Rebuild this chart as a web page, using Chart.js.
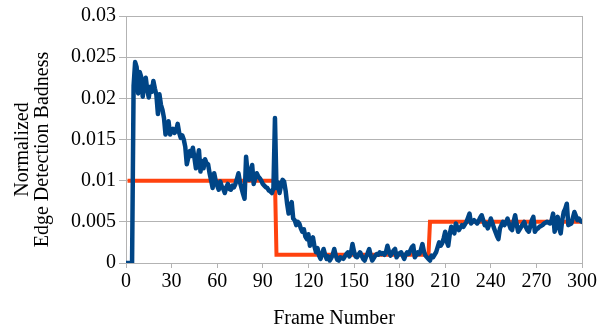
<!DOCTYPE html>
<html>
<head>
<meta charset="utf-8">
<script src="https://cdn.jsdelivr.net/npm/chart.js@4.4.1/dist/chart.umd.min.js"></script>
<style>
  html, body { margin: 0; padding: 0; background: #fff; }
  canvas { display: block; }
</style>
</head>
<body>
<canvas id="myChart" width="607" height="333"></canvas>
<script>
// tick labels
const xTicks = [0, 30, 60, 90, 120, 150, 180, 210, 240, 270, 300];
const yTicks = [0, 0.005, 0.01, 0.015, 0.02, 0.025, 0.03];

// measured badness, one value per frame (0..300)
const badness = [
  0, 0, 0, 0, 0, 0.0215, 0.0244, 0.0238, 0.0206, 0.0232,
  0.0226, 0.0202, 0.0218, 0.0225, 0.0210, 0.0201, 0.0214, 0.0208, 0.0221, 0.0212,
  0.0204, 0.0181, 0.0205, 0.0192, 0.0186, 0.0176, 0.0156, 0.0168, 0.0172, 0.0156,
  0.0160, 0.0163, 0.0158, 0.0161, 0.0169, 0.0158, 0.0152, 0.0155, 0.0150, 0.0141,
  0.0120, 0.0128, 0.0136, 0.0130, 0.0140, 0.0128, 0.0115, 0.0126, 0.0137, 0.0111,
  0.0124, 0.0115, 0.0126, 0.0121, 0.0120, 0.0109, 0.0100, 0.0091, 0.0109, 0.0100,
  0.0094, 0.0089, 0.0099, 0.0093, 0.0090, 0.0085, 0.0092, 0.0096, 0.0090, 0.0089,
  0.0094, 0.0092, 0.0096, 0.0102, 0.0109, 0.0098, 0.0091, 0.0084, 0.0078, 0.0129,
  0.0109, 0.0101, 0.0112, 0.0119, 0.0096, 0.0103, 0.0109, 0.0105, 0.0103, 0.0100,
  0.0096, 0.0094, 0.0092, 0.0091, 0.0088, 0.0087, 0.0085, 0.0091, 0.0176, 0.0091,
  0.0098, 0.0085, 0.0094, 0.0101, 0.0099, 0.0088, 0.0072, 0.0060, 0.0068, 0.0074,
  0.0054, 0.0052, 0.0046, 0.0050, 0.0048, 0.0042, 0.0038, 0.0041, 0.0032, 0.0029,
  0.0035, 0.0021, 0.0028, 0.0031, 0.0020, 0.0013, 0.0018, 0.0009, 0.0005, 0.0011,
  0.0017, 0.0010, 0.0005, 0.0008, 0.0003, 0.0006, 0.0010, 0.0017, 0.0009, 0.0004,
  0.0003, 0.0007, 0.0006, 0.0005, 0.0008, 0.0011, 0.0013, 0.0008, 0.0012, 0.0023,
  0.0014, 0.0008, 0.0007, 0.0010, 0.0013, 0.0009, 0.0005, 0.0003, 0.0008, 0.0012,
  0.0017, 0.0009, 0.0003, 0.0006, 0.0009, 0.0011, 0.0010, 0.0013, 0.0011, 0.0012,
  0.0010, 0.0013, 0.0021, 0.0014, 0.0009, 0.0012, 0.0015, 0.0017, 0.0007, 0.0010,
  0.0012, 0.0013, 0.0009, 0.0005, 0.0010, 0.0013, 0.0011, 0.0015, 0.0019, 0.0021,
  0.0007, 0.0010, 0.0013, 0.0011, 0.0016, 0.0023, 0.0014, 0.0009, 0.0007, 0.0005,
  0.0003, 0.0009, 0.0007, 0.0010, 0.0013, 0.0019, 0.0025, 0.0021, 0.0024, 0.0030,
  0.0038, 0.0026, 0.0021, 0.0035, 0.0044, 0.0040, 0.0036, 0.0048, 0.0043, 0.0040,
  0.0043, 0.0046, 0.0044, 0.0047, 0.0050, 0.0055, 0.0060, 0.0048, 0.0050, 0.0052,
  0.0050, 0.0048, 0.0051, 0.0055, 0.0058, 0.0052, 0.0046, 0.0048, 0.0042, 0.0047,
  0.0054, 0.0049, 0.0043, 0.0038, 0.0033, 0.0029, 0.0042, 0.0046, 0.0050, 0.0046,
  0.0049, 0.0054, 0.0047, 0.0042, 0.0040, 0.0050, 0.0058, 0.0047, 0.0038, 0.0041,
  0.0044, 0.0047, 0.0050, 0.0044, 0.0040, 0.0038, 0.0045, 0.0052, 0.0056, 0.0038,
  0.0041, 0.0042, 0.0044, 0.0045, 0.0046, 0.0048, 0.0049, 0.0050, 0.0049, 0.0048,
  0.0052, 0.0060, 0.0038, 0.0049, 0.0056, 0.0042, 0.0036, 0.0052, 0.0062, 0.0066,
  0.0072, 0.0046, 0.0047, 0.0048, 0.0055, 0.0062, 0.0057, 0.0052, 0.0054, 0.0051,
  0.0050
];

// target level (step line)
const targetFrames = [1, 98, 99, 199, 200, 300];
const targetValues = [0.01, 0.01, 0.001, 0.001, 0.005, 0.005];

const gridGray = '#b3b3b3';

Chart.defaults.font.family = "'Liberation Serif', 'Times New Roman', serif";
Chart.defaults.font.size = 20;
Chart.defaults.color = '#000';

let ctx = document.getElementById('myChart').getContext('2d');

let chart = new Chart(ctx, {
    type: 'line',
    data: {
        datasets: [{
            label: 'Badness',
            data: badness.map((v, i) => ({ x: i, y: v })),
            borderColor: '#004586',
            borderWidth: 4.5,
            pointRadius: 0,
            tension: 0,
            borderJoinStyle: 'round',
            borderCapStyle: 'round'
        }, {
            label: 'Target',
            data: targetFrames.map((f, i) => ({ x: f, y: targetValues[i] })),
            borderColor: '#ff420e',
            borderWidth: 4,
            pointRadius: 0,
            tension: 0
        }]
    },
    options: {
        responsive: false,
        animation: false,
        layout: { padding: { left: 13, right: 25, top: 16, bottom: 2 } },
        plugins: {
            legend: { display: false },
            tooltip: { enabled: false }
        },
        scales: {
            x: {
                type: 'linear',
                min: 0,
                max: 300,
                afterBuildTicks: function (axis) {
                    axis.ticks = xTicks.map(v => ({ value: v }));
                },
                ticks: {
                    padding: 2,
                    maxRotation: 0,
                    callback: v => String(v)
                },
                grid: {
                    color: c => (c.tick && c.tick.value === 300) ? gridGray : 'rgba(0,0,0,0)',
                    tickColor: gridGray,
                    tickLength: 5,
                    lineWidth: 1
                },
                border: { color: gridGray },
                title: {
                    display: true,
                    text: 'Frame Number        ',
                    padding: { top: 11, bottom: 0 }
                }
            },
            y: {
                min: 0,
                max: 0.03,
                afterBuildTicks: function (axis) {
                    axis.ticks = yTicks.map(v => ({ value: v }));
                },
                ticks: {
                    padding: 3,
                    callback: v => String(v)
                },
                grid: {
                    color: gridGray,
                    tickColor: gridGray,
                    tickLength: 7
                },
                border: { color: gridGray },
                title: {
                    display: true,
                    text: ['Normalized    ', 'Edge Detection Badness    '],
                    font: { lineHeight: 1 },
                    padding: { top: 0, bottom: 15 }
                }
            }
        }
    }
});
</script>
</body>
</html>
